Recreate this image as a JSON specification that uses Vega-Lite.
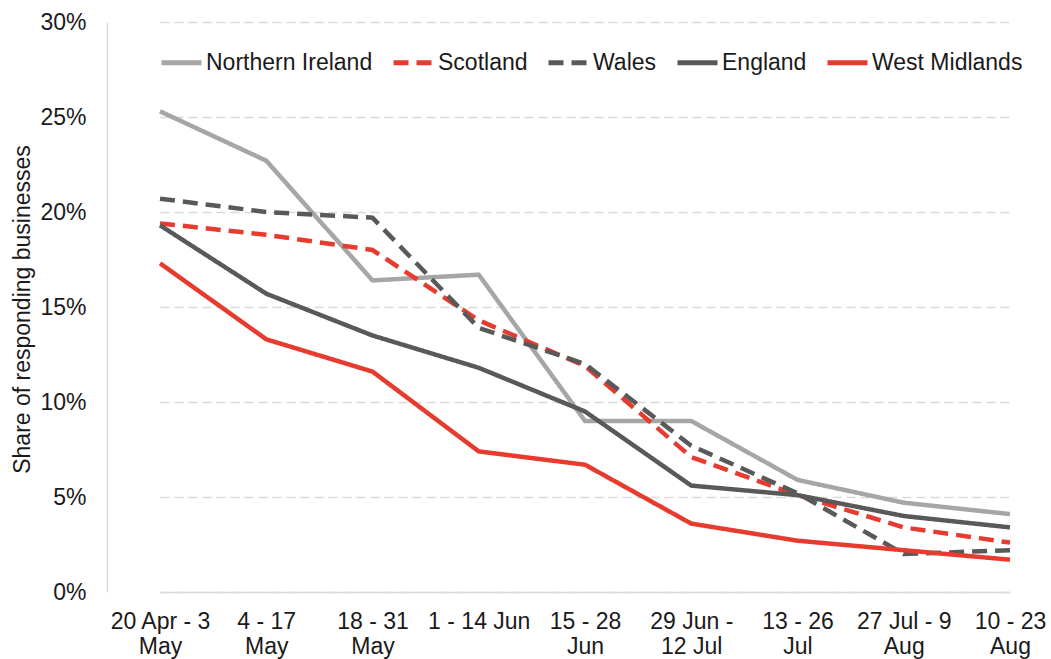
{
  "$schema": "https://vega.github.io/schema/vega-lite/v6.json",
  "autosize": {"type": "none"},
  "width": 944,
  "height": 570,
  "padding": {"left": 107, "top": 22, "right": 0, "bottom": 67},
  "background": "white",
  "config": {
    "view": {"stroke": null},
    "font": "Liberation Sans"
  },
  "data": {
    "values": [
      {"period": "20 Apr - 3 May", "series": "Northern Ireland", "value": 0.253},
      {"period": "4 - 17 May", "series": "Northern Ireland", "value": 0.227},
      {"period": "18 - 31 May", "series": "Northern Ireland", "value": 0.164},
      {"period": "1 - 14 Jun", "series": "Northern Ireland", "value": 0.167},
      {"period": "15 - 28 Jun", "series": "Northern Ireland", "value": 0.090},
      {"period": "29 Jun - 12 Jul", "series": "Northern Ireland", "value": 0.090},
      {"period": "13 - 26 Jul", "series": "Northern Ireland", "value": 0.059},
      {"period": "27 Jul - 9 Aug", "series": "Northern Ireland", "value": 0.047},
      {"period": "10 - 23 Aug", "series": "Northern Ireland", "value": 0.041},

      {"period": "20 Apr - 3 May", "series": "Scotland", "value": 0.194},
      {"period": "4 - 17 May", "series": "Scotland", "value": 0.188},
      {"period": "18 - 31 May", "series": "Scotland", "value": 0.180},
      {"period": "1 - 14 Jun", "series": "Scotland", "value": 0.143},
      {"period": "15 - 28 Jun", "series": "Scotland", "value": 0.119},
      {"period": "29 Jun - 12 Jul", "series": "Scotland", "value": 0.071},
      {"period": "13 - 26 Jul", "series": "Scotland", "value": 0.051},
      {"period": "27 Jul - 9 Aug", "series": "Scotland", "value": 0.034},
      {"period": "10 - 23 Aug", "series": "Scotland", "value": 0.026},

      {"period": "20 Apr - 3 May", "series": "Wales", "value": 0.207},
      {"period": "4 - 17 May", "series": "Wales", "value": 0.200},
      {"period": "18 - 31 May", "series": "Wales", "value": 0.197},
      {"period": "1 - 14 Jun", "series": "Wales", "value": 0.139},
      {"period": "15 - 28 Jun", "series": "Wales", "value": 0.120},
      {"period": "29 Jun - 12 Jul", "series": "Wales", "value": 0.077},
      {"period": "13 - 26 Jul", "series": "Wales", "value": 0.052},
      {"period": "27 Jul - 9 Aug", "series": "Wales", "value": 0.020},
      {"period": "10 - 23 Aug", "series": "Wales", "value": 0.022},

      {"period": "20 Apr - 3 May", "series": "England", "value": 0.193},
      {"period": "4 - 17 May", "series": "England", "value": 0.157},
      {"period": "18 - 31 May", "series": "England", "value": 0.135},
      {"period": "1 - 14 Jun", "series": "England", "value": 0.118},
      {"period": "15 - 28 Jun", "series": "England", "value": 0.095},
      {"period": "29 Jun - 12 Jul", "series": "England", "value": 0.056},
      {"period": "13 - 26 Jul", "series": "England", "value": 0.051},
      {"period": "27 Jul - 9 Aug", "series": "England", "value": 0.040},
      {"period": "10 - 23 Aug", "series": "England", "value": 0.034},

      {"period": "20 Apr - 3 May", "series": "West Midlands", "value": 0.173},
      {"period": "4 - 17 May", "series": "West Midlands", "value": 0.133},
      {"period": "18 - 31 May", "series": "West Midlands", "value": 0.116},
      {"period": "1 - 14 Jun", "series": "West Midlands", "value": 0.074},
      {"period": "15 - 28 Jun", "series": "West Midlands", "value": 0.067},
      {"period": "29 Jun - 12 Jul", "series": "West Midlands", "value": 0.036},
      {"period": "13 - 26 Jul", "series": "West Midlands", "value": 0.027},
      {"period": "27 Jul - 9 Aug", "series": "West Midlands", "value": 0.022},
      {"period": "10 - 23 Aug", "series": "West Midlands", "value": 0.017}
    ]
  },
  "mark": {"type": "line", "strokeWidth": 4.5, "strokeCap": "butt", "strokeJoin": "miter"},
  "encoding": {
    "x": {
      "field": "period",
      "type": "ordinal",
      "sort": null,
      "scale": {"type": "point", "range": [53, 903], "padding": 0},
      "axis": {
        "title": null,
        "ticks": false,
        "grid": false,
        "domain": true,
        "domainColor": "#D9D9D9",
        "domainWidth": 1.5,
        "labelAngle": 0,
        "labelFontSize": 23,
        "labelColor": "#1a1a1a",
        "labelPadding": 18,
        "labelLineHeight": 25,
        "labelBaseline": "top",
        "labelOverlap": false,
        "labelExpr": "datum.value == '1 - 14 Jun' ? datum.value : (datum.value == '29 Jun - 12 Jul' ? ['29 Jun -', '12 Jul'] : [substring(datum.value, 0, lastindexof(datum.value, ' ')), substring(datum.value, lastindexof(datum.value, ' ') + 1)])"
      }
    },
    "y": {
      "field": "value",
      "type": "quantitative",
      "scale": {"domain": [0, 0.3], "nice": false, "zero": true},
      "axis": {
        "title": "Share of responding businesses",
        "titleFontSize": 23,
        "titleFontWeight": "normal",
        "titleColor": "#1a1a1a",
        "titleAngle": -90,
        "titleAlign": "center",
        "titleBaseline": "middle",
        "titleX": -85,
        "titleY": 287,
        "values": [0, 0.05, 0.1, 0.15, 0.2, 0.25, 0.3],
        "format": ".0%",
        "ticks": false,
        "labelFontSize": 23,
        "labelColor": "#1a1a1a",
        "labelPadding": 21,
        "domain": true,
        "domainColor": "#D9D9D9",
        "domainWidth": 1.5,
        "grid": true,
        "gridColor": "#D9D9D9",
        "gridWidth": 1.5,
        "gridDash": [9, 5]
      }
    },
    "color": {
      "field": "series",
      "type": "nominal",
      "sort": ["Northern Ireland", "Scotland", "Wales", "England", "West Midlands"],
      "scale": {
        "domain": ["Northern Ireland", "Scotland", "Wales", "England", "West Midlands"],
        "range": ["#A6A6A6", "#E63B2E", "#595959", "#595959", "#E63B2E"]
      },
      "legend": {
        "title": null,
        "orient": "none",
        "legendX": 52,
        "legendY": 18,
        "direction": "horizontal",
        "padding": 0,
        "symbolType": "stroke",
        "symbolSize": 1600,
        "symbolStrokeWidth": 5,
        "labelFontSize": 23,
        "labelColor": "#1a1a1a",
        "labelOffset": 2,
        "columnPadding": 10,
        "labelLimit": 300
      }
    },
    "strokeDash": {
      "field": "series",
      "type": "nominal",
      "sort": ["Northern Ireland", "Scotland", "Wales", "England", "West Midlands"],
      "scale": {
        "domain": ["Northern Ireland", "Scotland", "Wales", "England", "West Midlands"],
        "range": [[1, 0], [15, 8], [15, 8], [1, 0], [1, 0]]
      },
      "legend": {
        "title": null,
        "orient": "none",
        "legendX": 52,
        "legendY": 18,
        "direction": "horizontal",
        "padding": 0,
        "symbolType": "stroke",
        "symbolSize": 1600,
        "symbolStrokeWidth": 5,
        "labelFontSize": 23,
        "labelColor": "#1a1a1a",
        "labelOffset": 2,
        "columnPadding": 10,
        "labelLimit": 300
      }
    }
  }
}
